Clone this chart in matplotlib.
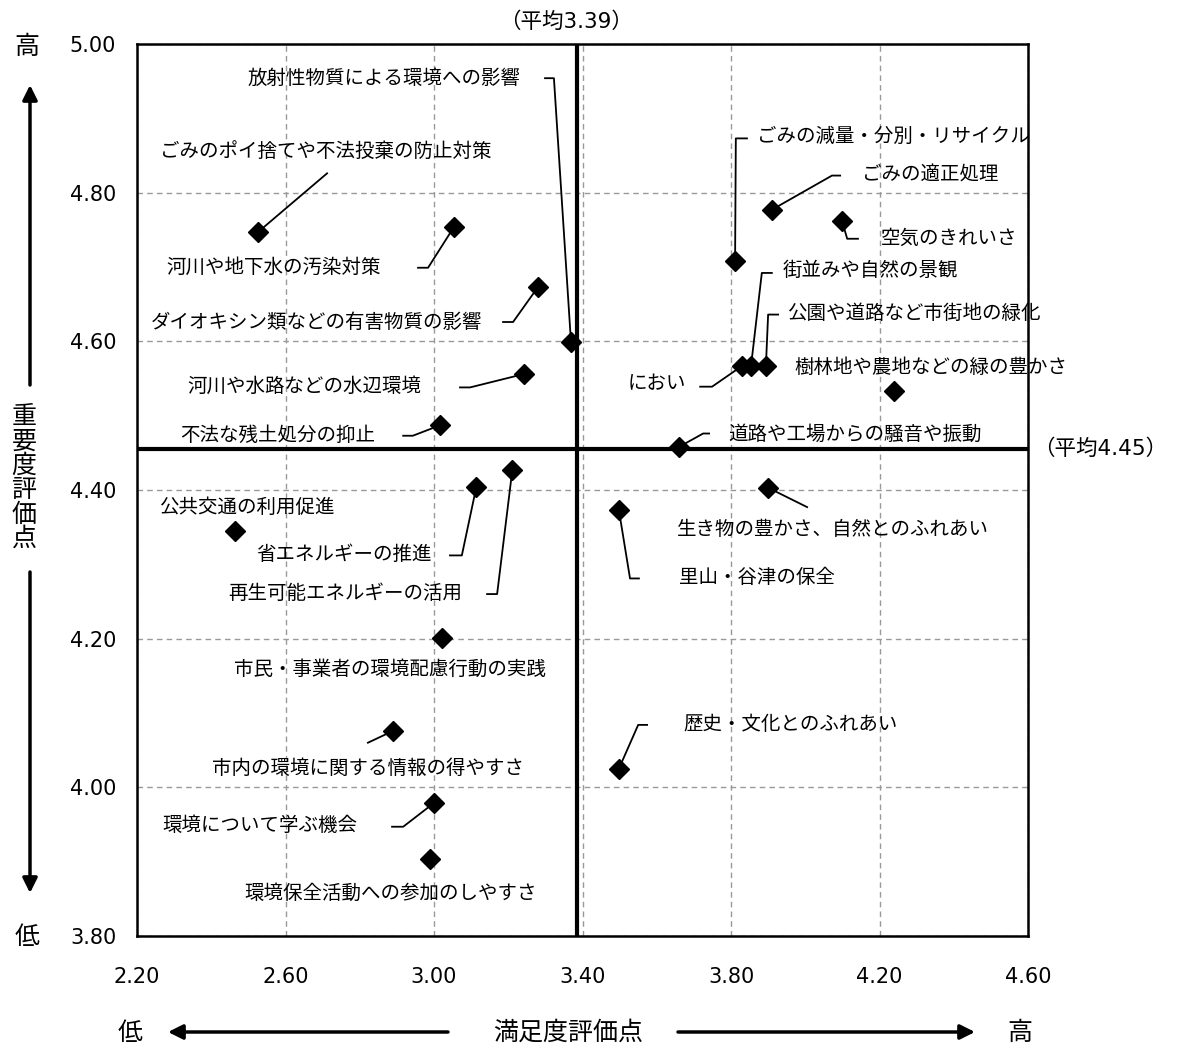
import matplotlib
matplotlib.use("Agg")
import matplotlib.pyplot as plt

plt.rcParams['font.family'] = ['Noto Sans CJK JP', 'DejaVu Sans']

# ---- data: satisfaction (x) / importance (y) per item ----
items = [
    "放射性物質による環境への影響",
    "ごみのポイ捨てや不法投棄の防止対策",
    "河川や地下水の汚染対策",
    "ダイオキシン類などの有害物質の影響",
    "河川や水路などの水辺環境",
    "不法な残土処分の抑止",
    "ごみの減量・分別・リサイクル",
    "ごみの適正処理",
    "空気のきれいさ",
    "街並みや自然の景観",
    "公園や道路など市街地の緑化",
    "樹林地や農地などの緑の豊かさ",
    "におい",
    "道路や工場からの騒音や振動",
    "生き物の豊かさ、自然とのふれあい",
    "里山・谷津の保全",
    "歴史・文化とのふれあい",
    "公共交通の利用促進",
    "省エネルギーの推進",
    "再生可能エネルギーの活用",
    "市民・事業者の環境配慮行動の実践",
    "市内の環境に関する情報の得やすさ",
    "環境について学ぶ機会",
    "環境保全活動への参加のしやすさ",
]
satisfaction = [3.369, 2.526, 3.054, 3.280, 3.242, 3.016, 3.811, 3.910, 4.099, 3.854,
                3.894, 4.239, 3.830, 3.660, 3.900, 3.498, 3.498, 2.464, 3.114, 3.211,
                3.022, 2.890, 3.000, 2.989]
importance = [4.599, 4.747, 4.754, 4.673, 4.556, 4.487, 4.708, 4.777, 4.762, 4.567,
              4.567, 4.533, 4.567, 4.458, 4.403, 4.373, 4.025, 4.345, 4.404, 4.427,
              4.201, 4.076, 3.979, 3.903]

avg_x = 3.385
avg_y = 4.455
avg_x_text = "（平均3.39）"
avg_y_text = "（平均4.45）"

xticks = [2.2, 2.6, 3.0, 3.4, 3.8, 4.2, 4.6]
yticks = [3.8, 4.0, 4.2, 4.4, 4.6, 4.8, 5.0]

# ---- label layout: text anchor (x, y, ha) and leader elbow points ----
label_pos = [
    (3.234, 4.954, 'right'), (2.709, 4.856, 'center'), (2.857, 4.700, 'right'),
    (3.129, 4.626, 'right'), (2.965, 4.539, 'right'), (2.841, 4.473, 'right'),
    (3.870, 4.875, 'left'), (4.153, 4.824, 'left'), (4.204, 4.739, 'left'),
    (3.940, 4.695, 'left'), (3.951, 4.637, 'left'), (3.970, 4.565, 'left'),
    (3.679, 4.543, 'right'), (3.792, 4.475, 'left'), (3.655, 4.347, 'left'),
    (3.660, 4.282, 'left'), (3.671, 4.084, 'left'), (2.259, 4.376, 'left'),
    (2.995, 4.313, 'right'), (3.075, 4.261, 'right'), (2.461, 4.159, 'left'),
    (2.402, 4.025, 'left'), (2.793, 3.948, 'right'), (2.488, 3.858, 'left'),
]
leaders = [
    [(3.299, 4.954), (3.323, 4.954)],
    [(2.712, 4.826)],
    [(2.957, 4.699), (2.984, 4.699)],
    [(3.186, 4.626), (3.213, 4.626)],
    [(3.070, 4.538), (3.097, 4.538)],
    [(2.917, 4.473), (2.943, 4.473)],
    [(3.843, 4.873), (3.813, 4.873)],
    [(4.094, 4.823), (4.072, 4.823)],
    [(4.142, 4.738), (4.113, 4.738)],
    [(3.910, 4.692), (3.883, 4.692)],
    [(3.927, 4.636), (3.900, 4.636)],
    None,
    [(3.717, 4.539), (3.749, 4.539)],
    [(3.741, 4.476), (3.725, 4.476)],
    [(4.005, 4.377)],
    [(3.552, 4.281), (3.528, 4.281)],
    [(3.574, 4.084), (3.550, 4.084)],
    None,
    [(3.043, 4.312), (3.075, 4.312)],
    [(3.143, 4.260), (3.170, 4.260)],
    None,
    [(2.822, 4.060)],
    [(2.887, 3.947), (2.917, 3.947)],
    None,
]

W, H = 1181, 1048
fig = plt.figure(figsize=(W / 100, H / 100), dpi=100)
ax = fig.add_axes([137 / W, 1 - 936 / H, 891 / W, 892 / H])

ax.set_xlim(2.2, 4.6)
ax.set_ylim(3.8, 5.0)
ax.set_xticks(xticks)
ax.set_yticks(yticks)
ax.set_xticklabels(["%.2f" % v for v in xticks], family='DejaVu Sans', fontsize=15)
ax.set_yticklabels(["%.2f" % v for v in yticks], family='DejaVu Sans', fontsize=15)
ax.tick_params(length=0, pad=15)
ax.tick_params(axis='x', pad=22)
ax.grid(True, color='#999999', ls=(0, (4, 3)), lw=1.0)
ax.set_axisbelow(True)
for sp in ax.spines.values():
    sp.set_linewidth(1.8)

# average lines
ax.axvline(avg_x, color='black', lw=3, zorder=2)
ax.axhline(avg_y, color='black', lw=3, zorder=2)

# leaders
for i, path in enumerate(leaders):
    if path is None:
        continue
    xs = [p[0] for p in path] + [satisfaction[i]]
    ys = [p[1] for p in path] + [importance[i]]
    ax.plot(xs, ys, color='black', lw=1.3, zorder=3)

ax.plot(satisfaction, importance, 'D', color='black', ms=10.5, zorder=4,
        clip_on=False)

for name, (tx, ty, ha) in zip(items, label_pos):
    ax.text(tx, ty, name, ha=ha, va='center', fontsize=14, zorder=5)

# average labels
avg_font = ['DejaVu Sans', 'Noto Sans CJK JP']
ax.text(avg_x - 0.03, 5.0 + 0.03, avg_x_text, ha='center', va='center',
        fontsize=15.5, family=avg_font)
ax.text(4.6 + 0.015, avg_y, avg_y_text, ha='left', va='center',
        fontsize=15.5, family=avg_font)

# axis titles with arrows (figure coordinates)
fig.text(27 / W, 1 - 47 / H, "高", ha='center', va='center', fontsize=18)
fig.text(27 / W, 1 - 937 / H, "低", ha='center', va='center', fontsize=18)
fig.text(24 / W, 1 - 478 / H, "\n".join("重要度評価点"), ha='center', va='center',
         fontsize=18, linespacing=0.92)
arrow = dict(arrowstyle='-|>', lw=2.5, color='black', mutation_scale=22,
             shrinkA=0, shrinkB=0)
ax.annotate("", xy=(30 / W, 1 - 85 / H), xytext=(30 / W, 1 - 385 / H),
            xycoords='figure fraction', textcoords='figure fraction', arrowprops=arrow)
ax.annotate("", xy=(30 / W, 1 - 893 / H), xytext=(30 / W, 1 - 572 / H),
            xycoords='figure fraction', textcoords='figure fraction', arrowprops=arrow)

fig.text(130 / W, 1 - 1033 / H, "低", ha='center', va='center', fontsize=18)
fig.text(1020 / W, 1 - 1033 / H, "高", ha='center', va='center', fontsize=18)
fig.text(568 / W, 1 - 1033 / H, "満足度評価点", ha='center', va='center', fontsize=18)
ax.annotate("", xy=(168 / W, 1 - 1032 / H), xytext=(448 / W, 1 - 1032 / H),
            xycoords='figure fraction', textcoords='figure fraction', arrowprops=arrow)
ax.annotate("", xy=(975 / W, 1 - 1032 / H), xytext=(678 / W, 1 - 1032 / H),
            xycoords='figure fraction', textcoords='figure fraction', arrowprops=arrow)

fig.savefig("out.png", dpi=100)
